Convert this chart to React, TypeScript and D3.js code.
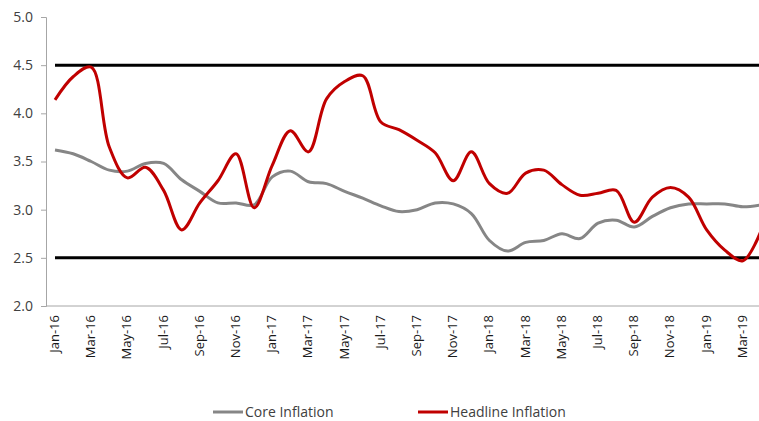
import React, { useEffect, useRef } from 'react';
import * as d3 from 'd3';

const months = [
  'Jan-16', 'Feb-16', 'Mar-16', 'Apr-16', 'May-16', 'Jun-16', 'Jul-16', 'Aug-16', 'Sep-16', 'Oct-16', 'Nov-16', 'Dec-16',
  'Jan-17', 'Feb-17', 'Mar-17', 'Apr-17', 'May-17', 'Jun-17', 'Jul-17', 'Aug-17', 'Sep-17', 'Oct-17', 'Nov-17', 'Dec-17',
  'Jan-18', 'Feb-18', 'Mar-18', 'Apr-18', 'May-18', 'Jun-18', 'Jul-18', 'Aug-18', 'Sep-18', 'Oct-18', 'Nov-18', 'Dec-18',
  'Jan-19', 'Feb-19', 'Mar-19', 'Apr-19',
];

const coreInflation = [
  3.62, 3.58, 3.50, 3.41, 3.40, 3.48, 3.48, 3.31, 3.19, 3.07, 3.07, 3.05,
  3.34, 3.40, 3.29, 3.27, 3.19, 3.12, 3.04, 2.98, 3.00, 3.07, 3.06, 2.96,
  2.68, 2.57, 2.66, 2.68, 2.75, 2.70, 2.86, 2.89, 2.82, 2.93, 3.02, 3.06,
  3.06, 3.06, 3.03, 3.05,
];

const headlineInflation = [
  4.14, 4.38, 4.48, 3.65, 3.33, 3.44, 3.20, 2.79, 3.07, 3.30, 3.58, 3.02,
  3.46, 3.82, 3.60, 4.15, 4.33, 4.39, 3.91, 3.83, 3.72, 3.59, 3.30, 3.60,
  3.27, 3.17, 3.38, 3.41, 3.26, 3.15, 3.17, 3.20, 2.87, 3.13, 3.23, 3.13,
  2.79, 2.58, 2.47, 2.78,
];

const bandLimits = [4.5, 2.5];
const yTicks = [2.0, 2.5, 3.0, 3.5, 4.0, 4.5, 5.0];
const xLabels = months.filter((_, i) => i % 2 === 0);

const W = 759;
const H = 421;
const FONT = '"Open Sans", sans-serif';

export default function App() {
  const ref = useRef<SVGSVGElement | null>(null);

  useEffect(() => {
    const svg = d3.select(ref.current);
    svg.selectAll('*').remove();

    const x = d3.scalePoint<string>().domain(months).range([55, 761]);
    const y = d3.scaleLinear().domain([2, 5]).range([306, 17]);

    // y axis
    const yAxis = svg.append('g').attr('transform', 'translate(46,0)')
      .call(d3.axisLeft(y).tickValues(yTicks).tickFormat(d3.format('.1f')).tickSize(5).tickPadding(8));
    yAxis.select('.domain').attr('stroke', '#a6a6a6');
    yAxis.selectAll('.tick line').attr('stroke', '#a6a6a6');
    yAxis.selectAll('.tick text')
      .attr('fill', '#404040').style('font-family', FONT).style('font-size', '14px');

    // x axis
    svg.append('line')
      .attr('x1', 46).attr('x2', W).attr('y1', y(2)).attr('y2', y(2))
      .attr('stroke', '#a6a6a6');
    svg.append('g').selectAll('text')
      .data(xLabels)
      .join('text')
      .attr('transform', d => `translate(${x(d)! + 4},315) rotate(-90)`)
      .attr('text-anchor', 'end')
      .attr('fill', '#1a1a1a')
      .style('font-family', FONT)
      .style('font-size', '13px')
      .text(d => d);

    // band limits
    svg.append('g').selectAll('line')
      .data(bandLimits)
      .join('line')
      .attr('x1', x(months[0])!).attr('x2', W)
      .attr('y1', d => y(d)).attr('y2', d => y(d))
      .attr('stroke', '#000').attr('stroke-width', 3);

    const line = d3.line<number>()
      .x((_, i) => x(months[i])!)
      .y(d => y(d))
      .curve(d3.curveCatmullRom.alpha(0.5));

    svg.append('path')
      .attr('d', line(coreInflation))
      .attr('fill', 'none').attr('stroke', '#868686').attr('stroke-width', 3);
    svg.append('path')
      .attr('d', line(headlineInflation))
      .attr('fill', 'none').attr('stroke', '#c00000').attr('stroke-width', 3);

    // legend
    const legend = [
      { name: 'Core Inflation', color: '#868686', x: 213 },
      { name: 'Headline Inflation', color: '#c00000', x: 418 },
    ];
    const lg = svg.append('g').selectAll('g').data(legend).join('g')
      .attr('transform', d => `translate(${d.x},412)`);
    lg.append('line').attr('x1', 0).attr('x2', 30).attr('y1', 0).attr('y2', 0)
      .attr('stroke', d => d.color).attr('stroke-width', 3);
    lg.append('text').attr('x', 32).attr('y', 0).attr('dy', '0.35em')
      .attr('fill', '#404040').style('font-family', FONT).style('font-size', '14px')
      .text(d => d.name);
  }, []);

  return (
    <svg ref={ref} width={W} height={H}
      style={{ position: 'absolute', left: 0, top: 0, display: 'block', background: '#fff' }} />
  );
}
